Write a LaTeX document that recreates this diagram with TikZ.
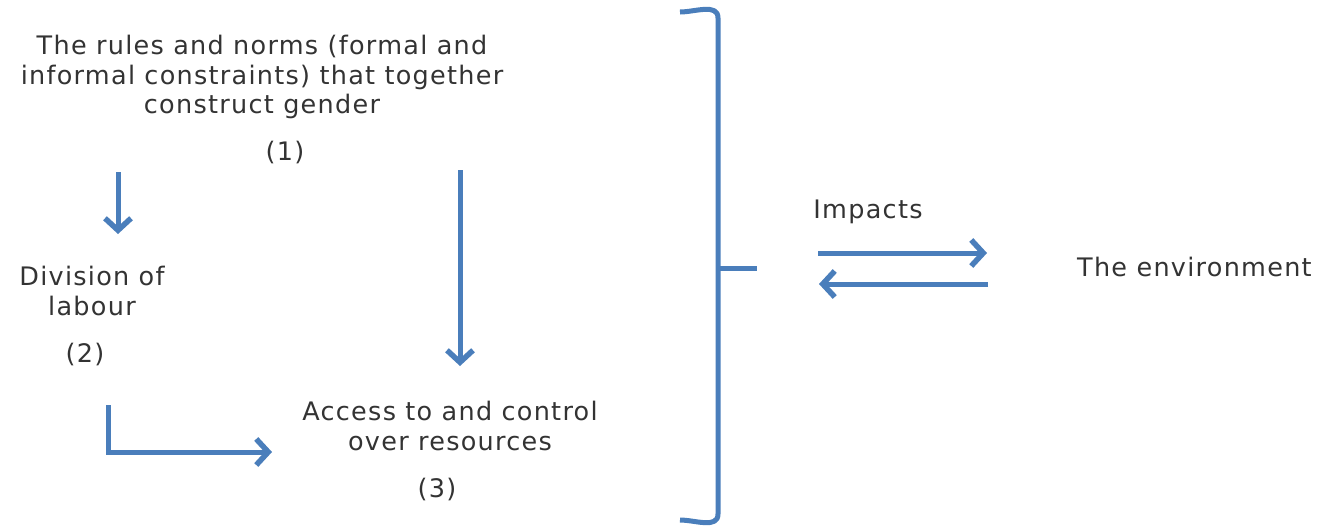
\documentclass[tikz,border=0pt]{standalone}
\usepackage{fontspec}
\setmainfont{DejaVu Sans}[LetterSpace=5]
\usetikzlibrary{arrows.meta}
\definecolor{arrowblue}{HTML}{4A7EBB}
\definecolor{txtgray}{HTML}{333333}
\tikzset{
  flow/.style={arrowblue, line width=5pt, -{Straight Barb[length=12pt,width=26pt,line width=5.5pt]}},
  label/.style={text=txtgray, font=\fontsize{25.5}{29.5}\selectfont, align=center, inner sep=0pt}
}
\begin{document}
\begin{tikzpicture}[x=1pt,y=-1pt]
\useasboundingbox (0,0) rectangle (1323,531);
% texts
\node[label] (rules) at (262,77) {The rules and norms (formal and\\informal constraints) that together\\construct gender};
\node[label] (one) at (285,153) {(1)};
\node[label] (division) at (92,291) {Division of\\labour};
\node[label] (two) at (85,354) {(2)};
\node[label] (access) at (450,426) {Access to and control\\over resources};
\node[label] (three) at (437,489) {(3)};
\node[label] (impacts) at (868,212) {Impacts};
\node[label, anchor=west] (env) at (1077,267) {The environment};
% arrows
\coordinate (a1) at (118,172);
\coordinate (a2) at (118,234);
\draw[flow] (a1) -- (a2);
\coordinate (b1) at (460,170);
\coordinate (b2) at (460,366);
\draw[flow] (b1) -- (b2);
\coordinate (c1) at (108,405);
\coordinate (c2) at (272,452);
\draw[flow] (c1) |- (c2);
% bracket
\coordinate (top) at (680,12);
\coordinate (bot) at (680,520);
\coordinate (mid) at (757,268);
\draw[arrowblue, line width=5pt, line join=round] (top) to[out=0,in=90] (718,18) -- (718,514) to[out=-90,in=0] (bot);
\draw[arrowblue, line width=5pt] (718,268) -- (mid);
% impacts
\coordinate (r1) at (818,253);
\coordinate (r2) at (987,253);
\draw[flow] (r1) -- (r2);
\coordinate (l1) at (988,284);
\coordinate (l2) at (819,284);
\draw[flow] (l1) -- (l2);
\end{tikzpicture}
\end{document}
